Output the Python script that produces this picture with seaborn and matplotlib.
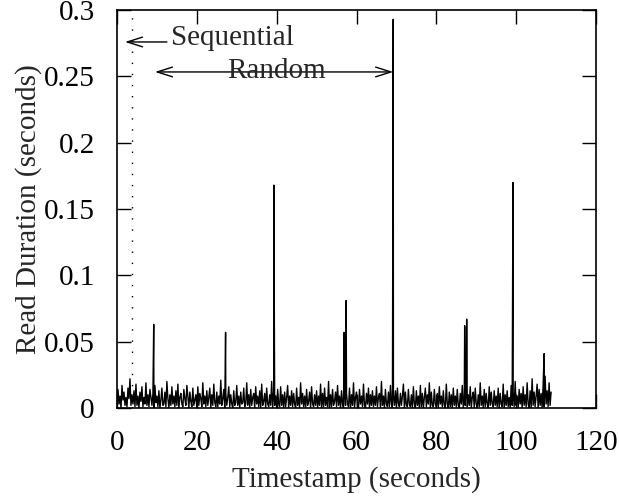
import numpy as np
import pandas as pd
import matplotlib
matplotlib.use("Agg")
import matplotlib.pyplot as plt
import seaborn as sns

# ---- data ----
t_start = 0.0
t_step = 0.25
# background read durations, in milliseconds
noise_ms = [
    1, 14, 3, 9, 0, 17, 6, 12, 2, 8, 1, 15, 7, 22, 2, 10, 3, 13, 1, 18,
    2, 9, 0, 12, 5, 16, 1, 8, 3, 19, 2, 10, 1, 14, 8, 2, 11, 0, 17, 4,
    9, 1, 13, 0, 6, 15, 2, 3, 12, 1, 20, 7, 0, 10, 2, 16, 3, 9, 1, 13,
    2, 18, 0, 8, 11, 3, 1, 14, 7, 2, 17, 9, 0, 12, 5, 1, 15, 2, 6, 10,
    0, 16, 2, 11, 7, 1, 19, 3, 9, 1, 13, 2, 8, 15, 0, 10, 2, 18, 4, 1,
    12, 1, 9, 3, 21, 2, 7, 14, 0, 11, 2, 8, 16, 1, 10, 3, 0, 13, 2, 4,
    17, 2, 9, 0, 12, 3, 4, 15, 1, 3, 19, 2, 10, 0, 14, 2, 8, 11, 0, 16,
    3, 9, 1, 13, 0, 18, 2, 5, 11, 0, 15, 3, 1, 10, 2, 20, 0, 12, 2, 9,
    0, 14, 3, 1, 16, 2, 10, 0, 12, 1, 8, 17, 0, 9, 2, 13, 1, 11, 3, 0,
    15, 2, 8, 0, 19, 3, 11, 1, 9, 0, 14, 2, 5, 12, 0, 16, 3, 1, 10, 2,
    13, 0, 9, 2, 18, 0, 11, 1, 15, 2, 8, 1, 20, 0, 10, 1, 14, 2, 5, 12,
    1, 17, 2, 9, 0, 13, 3, 0, 16, 2, 11, 3, 1, 15, 0, 10, 2, 19, 0, 8,
    12, 1, 0, 14, 3, 9, 1, 18, 2, 0, 11, 3, 15, 0, 10, 2, 13, 1, 9, 2,
    16, 1, 8, 11, 0, 20, 2, 9, 0, 14, 3, 1, 12, 1, 17, 3, 0, 10, 2, 13,
    0, 15, 3, 1, 11, 2, 9, 18, 0, 12, 2, 1, 14, 3, 1, 10, 0, 16, 3, 0,
    13, 2, 9, 0, 17, 1, 11, 0, 8, 15, 1, 10, 3, 19, 0, 12, 2, 1, 14, 3,
    1, 11, 0, 16, 3, 9, 1, 13, 2, 0, 18, 3, 0, 12, 1, 10, 0, 15, 2, 9,
    1, 14, 2, 0, 11, 3, 17, 0, 9, 2, 13, 1, 10, 2, 16, 0, 8, 12, 0, 15,
    3, 0, 10, 1, 19, 2, 9, 0, 14, 1, 11, 3, 0, 16, 2, 12, 3, 1, 13, 2,
    9, 1, 15, 0, 11, 3, 1, 18, 0, 10, 2, 13, 1, 8, 0, 17, 2, 12, 1, 20,
    2, 9, 0, 14, 3, 11, 0, 16, 2, 10, 1, 19, 3, 0, 13, 0, 22, 2, 12, 1,
    9, 18, 0, 14, 2, 11, 0, 17, 1, 24, 3, 13, 1, 19, 2, 12,
]
spike_times = [9.2, 27.2, 39.3, 56.9, 57.4, 69.2, 87.1, 87.6, 99.2, 107.0]
spike_values = [0.063, 0.057, 0.168, 0.057, 0.081, 0.293, 0.062, 0.067, 0.170, 0.041]

x_ticks = [0, 20, 40, 60, 80, 100, 120]
y_ticks = [0, 0.05, 0.1, 0.15, 0.2, 0.25, 0.3]
y_tick_labels = ["0", "0.05", "0.1", "0.15", "0.2", "0.25", "0.3"]
seq_boundary = 3.7

# ---- build table ----
noise_t = t_start + t_step * np.arange(len(noise_ms))
df = pd.DataFrame({
    "t": np.concatenate([noise_t, spike_times]),
    "d": np.concatenate([np.array(noise_ms) / 1000.0, spike_values]),
}).sort_values("t").reset_index(drop=True)

sns.set_style("ticks")
plt.rcParams["font.family"] = ["Liberation Serif", "DejaVu Serif"]
plt.rcParams["font.size"] = 21

fig = plt.figure(figsize=(6.19, 5.03), dpi=100)
ax = fig.add_axes([117 / 619, 1 - 408 / 503, (596 - 117) / 619, (408 - 10) / 503])

sns.lineplot(data=df, x="t", y="d", ax=ax, color="black", lw=1.0,
             estimator=None, sort=False)

ax.axvline(seq_boundary, color="black", lw=1.0, linestyle=(0, (1, 7)))

ax.set_xlim(0, 120)
ax.set_ylim(0, 0.3)
ax.set_xticks(x_ticks)
ax.set_yticks(y_ticks)
ax.set_yticklabels(y_tick_labels)
ax.tick_params(direction="in", length=10, width=1, top=True, right=True,
               labelsize=21, colors="black")
ax.tick_params(axis="x", pad=16)
ax.tick_params(axis="y", pad=16)
for s in ax.spines.values():
    s.set_linewidth(1.2)
    s.set_color("black")

ax.set_xlabel("Timestamp (seconds)", fontsize=21, labelpad=7)
ax.set_ylabel("Read Duration (seconds)", fontsize=21, labelpad=1)

# annotations
ax.annotate("", xy=(2.0, 0.2759), xytext=(12.5, 0.2759),
            arrowprops=dict(arrowstyle="->,head_length=1.1,head_width=0.35",
                            lw=1, color="black", shrinkA=0, shrinkB=0,
                            mutation_scale=10))
ax.text(13.5, 0.2736, "Sequential", fontsize=21, va="baseline", ha="left")
ax.annotate("", xy=(9.5, 0.2533), xytext=(69.2, 0.2533),
            arrowprops=dict(arrowstyle="<->,head_length=1.1,head_width=0.35",
                            lw=1, color="black", shrinkA=0, shrinkB=0,
                            mutation_scale=10))
ax.text(27.6, 0.2485, "Random", fontsize=21, va="baseline", ha="left")

fig.savefig("out.png", dpi=100)
